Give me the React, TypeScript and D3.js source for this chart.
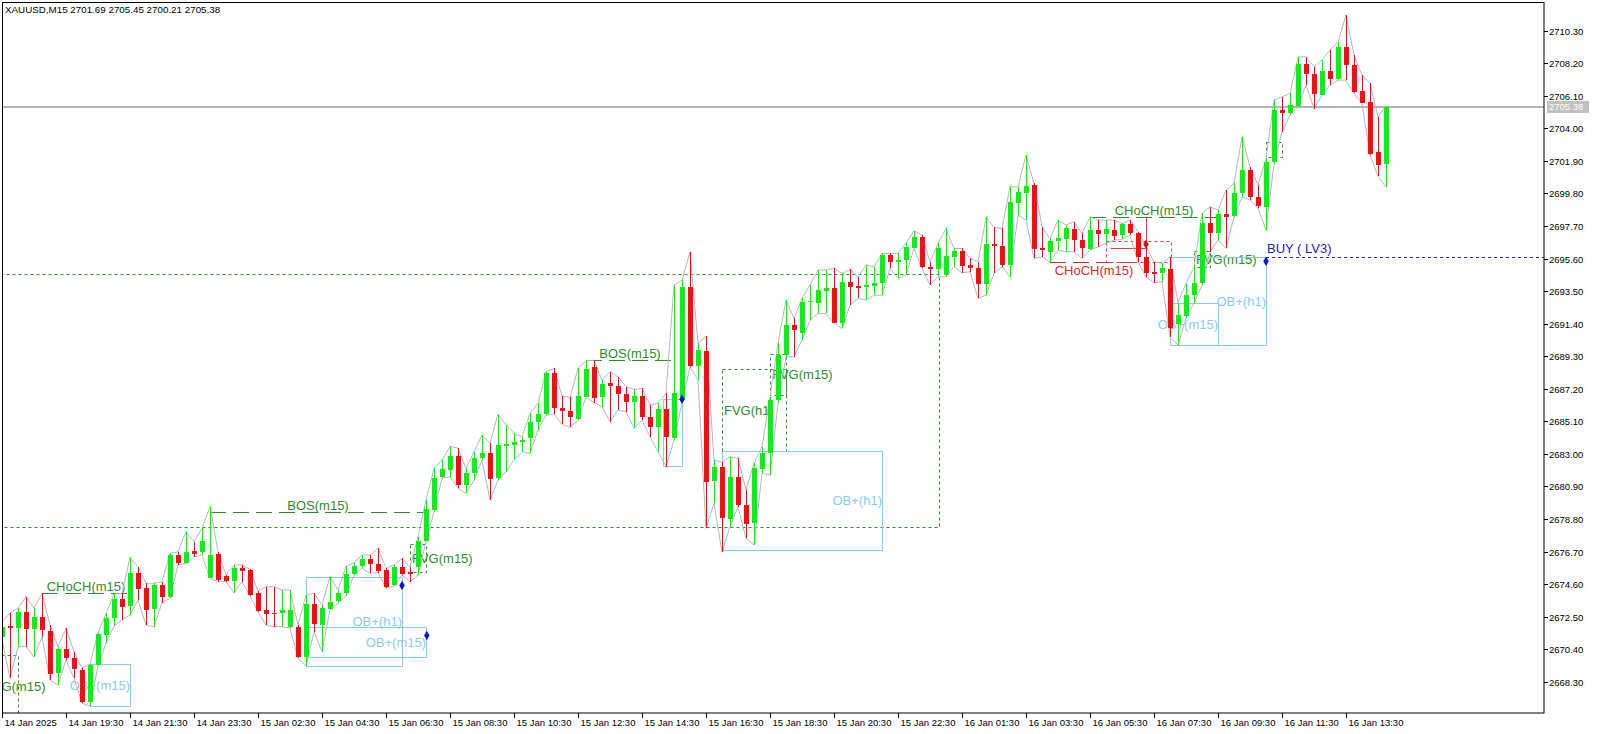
import { useEffect, useRef } from 'react';
import * as d3 from 'd3';

const WIDTH = 1597;
const HEIGHT = 734;
const PLOT_RIGHT = 1544;
const PLOT_BOTTOM = 713;

const header = 'XAUUSD,M15  2701.69 2705.45 2700.21 2705.38';
const lastPrice = 2705.38;

const priceTicks = [
  2668.3, 2670.4, 2672.5, 2674.6, 2676.7, 2678.8, 2680.9, 2683.0, 2685.1, 2687.2, 2689.3,
  2691.4, 2693.5, 2695.6, 2697.7, 2699.8, 2701.9, 2704.0, 2706.1, 2708.2, 2710.3,
];

// bar index of each time label (M15 bars)
const timeTickBars = [0, 8, 16, 24, 32, 40, 48, 56, 64, 72, 80, 88, 96, 104, 112, 120, 128, 136, 144, 152, 160, 168];
const timeTickLabels = [
  '14 Jan 2025', '14 Jan 19:30', '14 Jan 21:30', '14 Jan 23:30', '15 Jan 02:30', '15 Jan 04:30',
  '15 Jan 06:30', '15 Jan 08:30', '15 Jan 10:30', '15 Jan 12:30', '15 Jan 14:30', '15 Jan 16:30',
  '15 Jan 18:30', '15 Jan 20:30', '15 Jan 22:30', '16 Jan 01:30', '16 Jan 03:30', '16 Jan 05:30',
  '16 Jan 07:30', '16 Jan 09:30', '16 Jan 11:30', '16 Jan 13:30',
];

const opens = [
  2671.20, 2671.89, 2671.78, 2672.82, 2671.74, 2672.45, 2671.57, 2668.89, 2670.39, 2669.81,
  2669.06, 2667.01, 2669.38, 2671.31, 2672.39, 2673.62, 2673.14, 2675.29, 2674.32, 2672.97,
  2674.54, 2673.78, 2676.47, 2675.98, 2676.73, 2676.65, 2675.01, 2676.54, 2675.12, 2674.75,
  2675.62, 2675.51, 2674.04, 2672.93, 2672.75, 2672.71, 2671.85, 2671.85, 2669.91, 2673.31,
  2671.96, 2673.03, 2673.46, 2674.00, 2675.27, 2675.76, 2676.20, 2675.89, 2675.51, 2674.54,
  2675.68, 2675.36, 2675.68, 2677.36, 2679.38, 2681.48, 2681.98, 2682.88, 2681.00, 2681.75,
  2682.71, 2683.03, 2681.42, 2683.51, 2683.57, 2683.76, 2684.06, 2685.03, 2685.57, 2688.19,
  2685.93, 2685.76, 2685.23, 2686.68, 2688.62, 2686.64, 2687.55, 2687.37, 2686.86, 2686.36,
  2686.73, 2685.35, 2684.71, 2685.89, 2684.06, 2686.47, 2693.74, 2688.66, 2689.65, 2681.20,
  2682.13, 2678.84, 2681.52, 2679.70, 2678.51, 2682.06, 2683.07, 2686.47, 2689.37, 2691.31,
  2690.81, 2692.77, 2692.71, 2693.52, 2693.71, 2691.46, 2694.10, 2693.84, 2693.74, 2693.84,
  2694.00, 2695.82, 2695.39, 2695.55, 2696.32, 2697.00, 2695.07, 2694.96, 2694.53, 2695.71,
  2696.08, 2695.18, 2694.96, 2693.95, 2696.51, 2696.42, 2695.18, 2699.22, 2699.84, 2700.34,
  2696.25, 2696.04, 2696.73, 2696.84, 2697.48, 2696.79, 2696.19, 2697.44, 2697.16, 2697.44,
  2697.11, 2697.80, 2697.22, 2695.71, 2694.75, 2694.64, 2694.90, 2691.35, 2691.89, 2693.24,
  2694.00, 2697.91, 2697.27, 2698.47, 2698.34, 2699.80, 2701.30, 2699.54, 2698.94, 2701.84,
  2705.18, 2704.96, 2705.43, 2708.14, 2707.50, 2706.19, 2707.71, 2707.22, 2709.26, 2708.08,
  2706.42, 2705.71, 2702.49, 2701.69,
];

const highs = [
  2672.15, 2672.73, 2673.05, 2673.78, 2673.05, 2674.00, 2671.96, 2670.56, 2671.74, 2670.24,
  2669.18, 2669.45, 2671.44, 2672.71, 2673.96, 2674.00, 2676.32, 2675.72, 2674.65, 2674.65,
  2674.75, 2676.58, 2676.69, 2677.98, 2677.33, 2678.19, 2679.60, 2676.69, 2675.18, 2675.83,
  2675.83, 2675.55, 2674.15, 2674.43, 2674.43, 2674.22, 2674.22, 2671.96, 2673.89, 2674.00,
  2673.25, 2675.08, 2674.22, 2675.76, 2675.98, 2676.47, 2676.47, 2676.90, 2675.62, 2675.83,
  2676.26, 2675.68, 2677.66, 2680.02, 2682.06, 2682.60, 2683.48, 2683.37, 2682.07, 2683.14,
  2684.21, 2683.68, 2685.57, 2684.86, 2684.32, 2684.10, 2685.61, 2686.26, 2688.30, 2688.51,
  2686.73, 2686.64, 2688.51, 2689.00, 2689.05, 2687.76, 2688.30, 2687.97, 2687.33, 2687.16,
  2687.22, 2686.15, 2686.26, 2686.90, 2693.88, 2694.21, 2696.04, 2690.13, 2690.60, 2682.60,
  2682.47, 2682.81, 2682.71, 2680.67, 2682.39, 2683.46, 2686.68, 2690.13, 2692.92, 2691.74,
  2693.03, 2693.89, 2694.86, 2694.86, 2694.97, 2694.64, 2694.90, 2694.40, 2695.18, 2695.07,
  2695.93, 2695.93, 2695.93, 2696.58, 2697.39, 2697.11, 2695.39, 2696.58, 2697.54, 2696.25,
  2696.25, 2695.61, 2695.39, 2698.25, 2697.61, 2697.54, 2700.23, 2700.23, 2702.27, 2700.45,
  2697.65, 2696.90, 2698.08, 2697.76, 2697.97, 2697.22, 2698.29, 2698.08, 2698.08, 2698.08,
  2697.87, 2698.08, 2697.33, 2696.40, 2695.39, 2695.29, 2695.71, 2692.75, 2693.99, 2695.05,
  2698.51, 2698.94, 2698.73, 2700.02, 2700.45, 2703.45, 2701.52, 2700.34, 2702.06, 2705.82,
  2706.03, 2706.25, 2708.61, 2708.61, 2707.97, 2708.40, 2709.05, 2709.58, 2711.30, 2708.72,
  2707.43, 2706.90, 2704.74, 2705.45,
];

const lows = [
  2670.99, 2668.54, 2670.56, 2670.56, 2669.91, 2671.20, 2668.41, 2668.09, 2669.70, 2668.52,
  2666.91, 2666.73, 2669.31, 2670.78, 2671.89, 2672.28, 2672.60, 2673.57, 2671.96, 2671.85,
  2673.40, 2673.68, 2675.83, 2675.94, 2676.36, 2676.47, 2674.96, 2674.75, 2674.75, 2674.04,
  2674.75, 2673.83, 2672.80, 2671.96, 2671.85, 2671.85, 2671.76, 2669.81, 2669.31, 2671.53,
  2670.24, 2672.92, 2673.36, 2673.83, 2675.18, 2675.62, 2675.29, 2675.33, 2674.32, 2674.47,
  2675.18, 2674.75, 2675.18, 2677.31, 2679.27, 2681.42, 2681.52, 2680.78, 2680.45, 2681.31,
  2682.60, 2680.02, 2681.31, 2681.85, 2682.60, 2683.14, 2683.03, 2684.54, 2685.48, 2685.57,
  2684.90, 2684.71, 2685.18, 2686.64, 2686.30, 2686.04, 2685.07, 2685.83, 2685.72, 2684.64,
  2685.18, 2684.10, 2683.14, 2682.17, 2683.89, 2686.26, 2688.62, 2687.76, 2678.19, 2679.81,
  2676.65, 2678.30, 2679.59, 2677.55, 2677.12, 2681.74, 2681.63, 2686.26, 2689.26, 2689.26,
  2690.34, 2691.63, 2692.06, 2692.06, 2691.42, 2691.09, 2692.60, 2693.03, 2692.92, 2693.24,
  2693.24, 2694.96, 2694.32, 2694.53, 2696.25, 2694.96, 2693.89, 2694.42, 2694.42, 2695.07,
  2694.68, 2694.75, 2693.03, 2693.24, 2694.64, 2695.07, 2694.42, 2698.40, 2698.08, 2695.61,
  2695.71, 2695.39, 2696.15, 2696.04, 2696.04, 2695.61, 2696.15, 2696.36, 2696.58, 2696.79,
  2696.83, 2697.11, 2695.39, 2694.42, 2694.04, 2694.10, 2690.55, 2690.02, 2691.74, 2692.73,
  2693.89, 2696.04, 2696.79, 2696.25, 2698.29, 2699.58, 2699.37, 2698.84, 2697.44, 2701.73,
  2703.78, 2704.85, 2705.39, 2706.79, 2705.28, 2706.14, 2706.79, 2707.11, 2707.11, 2706.25,
  2705.61, 2702.27, 2700.90, 2700.21,
];

const closes = [
  2671.85, 2671.76, 2672.82, 2671.74, 2672.49, 2671.59, 2668.80, 2670.41, 2669.81, 2669.10,
  2667.01, 2669.38, 2671.38, 2672.39, 2673.62, 2673.10, 2675.29, 2674.26, 2672.88, 2674.52,
  2673.74, 2676.47, 2675.98, 2676.69, 2676.54, 2677.39, 2676.47, 2674.86, 2674.80, 2675.62,
  2675.40, 2673.89, 2672.88, 2672.67, 2672.71, 2672.93, 2672.93, 2669.91, 2673.31, 2672.02,
  2673.03, 2673.46, 2674.00, 2675.23, 2675.76, 2676.20, 2675.87, 2675.45, 2674.43, 2675.68,
  2675.25, 2675.25, 2677.38, 2679.42, 2681.42, 2682.00, 2682.88, 2681.00, 2681.75, 2682.71,
  2683.03, 2681.36, 2683.57, 2683.63, 2683.76, 2683.89, 2685.07, 2685.57, 2688.19, 2685.91,
  2685.72, 2685.39, 2686.73, 2688.47, 2686.64, 2687.50, 2687.37, 2686.84, 2686.36, 2686.73,
  2685.35, 2684.71, 2685.89, 2684.06, 2686.94, 2693.78, 2688.66, 2689.70, 2681.20, 2682.13,
  2678.84, 2681.52, 2679.70, 2678.47, 2682.06, 2683.07, 2686.47, 2689.37, 2691.31, 2690.98,
  2692.81, 2692.86, 2693.57, 2693.71, 2691.46, 2694.10, 2693.78, 2693.71, 2693.89, 2694.03,
  2695.82, 2695.39, 2695.50, 2696.36, 2697.00, 2695.07, 2694.96, 2696.29, 2695.76, 2696.08,
  2695.11, 2694.96, 2693.95, 2696.51, 2696.40, 2695.18, 2699.26, 2699.91, 2700.27, 2696.19,
  2696.15, 2696.73, 2696.94, 2697.54, 2696.79, 2696.25, 2697.44, 2697.16, 2697.50, 2697.05,
  2697.80, 2697.22, 2695.67, 2694.68, 2694.60, 2694.96, 2691.09, 2691.95, 2693.24, 2694.04,
  2697.89, 2697.27, 2698.47, 2698.25, 2699.84, 2701.30, 2699.54, 2698.94, 2701.84, 2705.18,
  2704.96, 2705.50, 2708.14, 2707.50, 2706.19, 2707.71, 2707.22, 2709.26, 2708.08, 2706.36,
  2705.65, 2702.38, 2701.63, 2705.38,
];

// structure breaks: bar range + price level
const structLabels = ['CHoCH(m15)', 'BOS(m15)', 'BOS(m15)', 'CHoCH(m15)', 'CHoCH(m15)'];
const structFrom = [5, 26, 73, 131, 136];
const structTo = [16, 53, 84, 142, 152];
const structPrice = [2674.02, 2679.27, 2689.05, 2695.35, 2698.27];
const structBull = [true, true, true, false, true];

// fair value gaps (dashed boxes)
const fvgLabels = ['FVG(m15)', 'FVG(m15)', 'FVG(h1)', 'FVG(m15)', 'FVG(m15)', '', ''];
const fvgFrom = [-2.4, 51, 90, 96, 149, 158, -10];
const fvgTo = [2, 53, 98, 98, 151, 160, 117.1];
const fvgTop = [2670.02, 2677.16, 2688.45, 2689.44, 2696.1, 2703.11, 2694.63];
const fvgBottom = [2666.0, 2675.35, 2683.14, 2686.79, 2695.05, 2702.14, 2678.3];

// order blocks (light blue boxes)
const obLabels = ['OB+(m15)', 'OB+(h1)', 'OB+(m15)', '', 'OB+(h1)', 'OB+(h1)', 'OB+(m15)'];
const obFrom = [11, 38, 38, 82.6, 90, 146, 146];
const obTo = [16, 50, 53, 85, 110, 158, 152];
const obTop = [2669.41, 2675.07, 2671.8, 2686.53, 2683.18, 2695.69, 2692.73];
const obBottom = [2666.73, 2669.34, 2669.86, 2682.21, 2676.8, 2690.02, 2690.02];

// buy arrows
const buyBars = [50, 53.1, 85, 158];
const buyPrices = [2674.5, 2671.28, 2686.52, 2695.43];

const signalLabel = 'BUY ( LV3)';
const signalBar = 158;
const signalPrice = 2695.69;

// bearish marks near the red CHoCH
const bearBoxFrom = 138;
const bearBoxTo = 146.1;
const bearBoxTop = 2696.73;
const bearBoxBottom = 2695.35;
const bearMarkBar = 143;
const bearMarkPrice = 2696.53;
const bearSwingPrice = 2698.27;
const bearLineFrom = 138.6;
const bearLinePrice = 2696.27;

const GREEN = '#1ee61e';
const RED = '#ee1111';
const DARK_GREEN = '#2e8b2e';
const SKY = '#87ceeb';
const BLUE = '#2222cc';
const FONT = "'Liberation Sans', Arial, sans-serif";

export default function App() {
  const svgRef = useRef<SVGSVGElement | null>(null);

  useEffect(() => {
    if (!svgRef.current) return;
    const svg = d3.select(svgRef.current);
    svg.selectAll('*').remove();

    const n = opens.length;
    const x = d3.scaleLinear().domain([0, n - 1]).range([2, 2 + 8 * (n - 1)]);
    const y = d3.scaleLinear().domain([2668.3, 2710.3]).range([681.7, 30.7]);

    svg.append('rect').attr('width', WIDTH).attr('height', HEIGHT).attr('fill', '#fff');

    svg
      .append('defs')
      .append('clipPath')
      .attr('id', 'plot-clip')
      .append('rect')
      .attr('x', 3)
      .attr('y', 3)
      .attr('width', PLOT_RIGHT - 3)
      .attr('height', PLOT_BOTTOM - 3);

    const plot = svg.append('g').attr('clip-path', 'url(#plot-clip)');

    // FVG boxes
    fvgLabels.forEach((label, i) => {
      const x0 = x(fvgFrom[i]);
      const x1 = x(fvgTo[i]);
      const y0 = y(fvgTop[i]);
      const y1 = y(fvgBottom[i]);
      plot
        .append('rect')
        .attr('x', Math.round(x0) + 0.5)
        .attr('y', Math.round(y0) + 0.5)
        .attr('width', Math.round(x1 - x0))
        .attr('height', Math.round(y1 - y0))
        .attr('fill', 'none')
        .attr('stroke', DARK_GREEN)
        .attr('stroke-dasharray', '3,3');
      if (label) {
        plot
          .append('text')
          .attr('x', x0 + 2)
          .attr('y', (y0 + y1) / 2)
          .attr('dy', '0.36em')
          .attr('fill', DARK_GREEN)
          .style('font', `13px ${FONT}`)
          .text(label);
      }
    });

    // order blocks
    obLabels.forEach((label, i) => {
      const x0 = x(obFrom[i]);
      const x1 = x(obTo[i]);
      const y0 = y(obTop[i]);
      const y1 = y(obBottom[i]);
      plot
        .append('rect')
        .attr('x', Math.round(x0) + 0.5)
        .attr('y', Math.round(y0) + 0.5)
        .attr('width', Math.round(x1 - x0))
        .attr('height', Math.round(y1 - y0))
        .attr('fill', 'none')
        .attr('stroke', SKY);
      if (label) {
        plot
          .append('text')
          .attr('x', x1)
          .attr('y', (y0 + y1) / 2)
          .attr('dy', '0.36em')
          .attr('text-anchor', 'end')
          .attr('fill', SKY)
          .style('font', `13px ${FONT}`)
          .text(label);
      }
    });

    // structure lines
    structLabels.forEach((label, i) => {
      const col = structBull[i] ? DARK_GREEN : '#e02828';
      const ly = Math.round(y(structPrice[i])) + 0.5;
      const x0 = x(structFrom[i]);
      const x1 = x(structTo[i]);
      plot
        .append('line')
        .attr('x1', x0)
        .attr('x2', x1)
        .attr('y1', ly)
        .attr('y2', ly)
        .attr('stroke', col)
        .attr('stroke-dasharray', '16,7');
      plot
        .append('text')
        .attr('x', (x0 + x1) / 2)
        .attr('y', structBull[i] ? ly - 3 : ly + 12)
        .attr('text-anchor', 'middle')
        .attr('fill', col)
        .style('font', `13px ${FONT}`)
        .text(label);
    });

    // bearish FVG + swing marks
    plot
      .append('rect')
      .attr('x', Math.round(x(bearBoxFrom)) + 0.5)
      .attr('y', Math.round(y(bearBoxTop)) + 0.5)
      .attr('width', Math.round(x(bearBoxTo) - x(bearBoxFrom)))
      .attr('height', Math.round(y(bearBoxBottom) - y(bearBoxTop)))
      .attr('fill', 'none')
      .attr('stroke', '#e84040')
      .attr('stroke-dasharray', '3,3');
    plot
      .append('line')
      .attr('x1', x(bearLineFrom))
      .attr('x2', x(bearMarkBar))
      .attr('y1', Math.round(y(bearLinePrice)) + 0.5)
      .attr('y2', Math.round(y(bearLinePrice)) + 0.5)
      .attr('stroke', '#e84040');
    plot
      .append('line')
      .attr('x1', Math.round(x(bearMarkBar)) + 0.5)
      .attr('x2', Math.round(x(bearMarkBar)) + 0.5)
      .attr('y1', y(bearSwingPrice))
      .attr('y2', y(bearMarkPrice))
      .attr('stroke', '#e84040');

    // current price line
    plot
      .append('line')
      .attr('x1', 0)
      .attr('x2', PLOT_RIGHT)
      .attr('y1', y(lastPrice))
      .attr('y2', y(lastPrice))
      .attr('stroke', '#b4b4b4')
      .attr('stroke-width', 2);

    // BUY signal
    plot
      .append('line')
      .attr('x1', x(signalBar))
      .attr('x2', PLOT_RIGHT)
      .attr('y1', Math.round(y(signalPrice)) + 0.5)
      .attr('y2', Math.round(y(signalPrice)) + 0.5)
      .attr('stroke', BLUE)
      .attr('stroke-dasharray', '3,3');
    plot
      .append('text')
      .attr('x', x(signalBar) + 1)
      .attr('y', y(signalPrice) - 4)
      .attr('fill', BLUE)
      .style('font', `13px ${FONT}`)
      .text(signalLabel);

    // high / low envelopes
    const idx = d3.range(n);
    const env = d3.line<number>().x((i) => x(i));
    plot
      .append('path')
      .attr('d', env.y((i) => y(highs[i]))(idx))
      .attr('fill', 'none')
      .attr('stroke', '#b8b8b8');
    plot
      .append('path')
      .attr('d', env.y((i) => y(lows[i]))(idx))
      .attr('fill', 'none')
      .attr('stroke', '#b8b8b8');

    // candles
    const candles = plot
      .append('g')
      .attr('shape-rendering', 'crispEdges')
      .selectAll('g')
      .data(idx)
      .enter()
      .append('g');
    candles
      .append('line')
      .attr('x1', (i) => Math.round(x(i)) + 0.5)
      .attr('x2', (i) => Math.round(x(i)) + 0.5)
      .attr('y1', (i) => y(highs[i]))
      .attr('y2', (i) => y(lows[i]))
      .attr('stroke', (i) => (closes[i] >= opens[i] ? GREEN : RED));
    candles
      .append('rect')
      .attr('x', (i) => Math.round(x(i)) - 2)
      .attr('width', 5)
      .attr('y', (i) => Math.round(y(Math.max(opens[i], closes[i]))))
      .attr('height', (i) => Math.max(1, Math.round(Math.abs(y(opens[i]) - y(closes[i])))))
      .attr('fill', (i) => (closes[i] >= opens[i] ? GREEN : RED));

    // markers
    buyBars.forEach((b, i) => {
      plot
        .append('path')
        .attr('d', d3.symbol(d3.symbolDiamond, 26)())
        .attr('transform', `translate(${x(b)},${y(buyPrices[i])})`)
        .attr('fill', '#1010e0');
    });
    plot
      .append('path')
      .attr('d', d3.symbol(d3.symbolDiamond, 26)())
      .attr('transform', `translate(${x(bearMarkBar)},${y(bearMarkPrice)})`)
      .attr('fill', '#e01010');

    // frame
    svg
      .append('rect')
      .attr('x', 2.5)
      .attr('y', 2.5)
      .attr('width', PLOT_RIGHT - 2.5)
      .attr('height', PLOT_BOTTOM - 2.5)
      .attr('fill', 'none')
      .attr('stroke', '#000');

    // price axis
    const pAxis = svg.append('g');
    priceTicks.forEach((p) => {
      const py = Math.round(y(p)) + 0.5;
      pAxis
        .append('line')
        .attr('x1', PLOT_RIGHT)
        .attr('x2', PLOT_RIGHT + 4)
        .attr('y1', py)
        .attr('y2', py)
        .attr('stroke', '#000');
      pAxis
        .append('text')
        .attr('x', PLOT_RIGHT + 5)
        .attr('y', py)
        .attr('dy', '0.35em')
        .style('font', `9.5px ${FONT}`)
        .attr('fill', '#000')
        .text(p.toFixed(2));
    });
    pAxis
      .append('rect')
      .attr('x', PLOT_RIGHT + 3)
      .attr('y', y(lastPrice) - 6)
      .attr('width', 42)
      .attr('height', 12)
      .attr('fill', '#c0c0c0');
    pAxis
      .append('text')
      .attr('x', PLOT_RIGHT + 5)
      .attr('y', y(lastPrice))
      .attr('dy', '0.35em')
      .style('font', `9.5px ${FONT}`)
      .attr('fill', '#fff')
      .text(lastPrice.toFixed(2));

    // time axis
    const tAxis = svg.append('g');
    timeTickBars.forEach((b, i) => {
      const tx = Math.round(x(b)) + 0.5;
      tAxis
        .append('line')
        .attr('x1', tx)
        .attr('x2', tx)
        .attr('y1', PLOT_BOTTOM)
        .attr('y2', PLOT_BOTTOM + 5)
        .attr('stroke', '#000');
      tAxis
        .append('text')
        .attr('x', tx + 2)
        .attr('y', PLOT_BOTTOM + 13)
        .style('font', `9.5px ${FONT}`)
        .attr('fill', '#000')
        .text(timeTickLabels[i]);
    });

    // header
    svg
      .append('text')
      .attr('x', 5)
      .attr('y', 13)
      .style('font', `9.8px ${FONT}`)
      .attr('fill', '#000')
      .text(header);
  }, []);

  return (
    <div style={{ position: 'absolute', left: 0, top: 0, width: WIDTH, height: HEIGHT, background: '#fff' }}>
      <svg ref={svgRef} width={WIDTH} height={HEIGHT} style={{ display: 'block' }} />
    </div>
  );
}
